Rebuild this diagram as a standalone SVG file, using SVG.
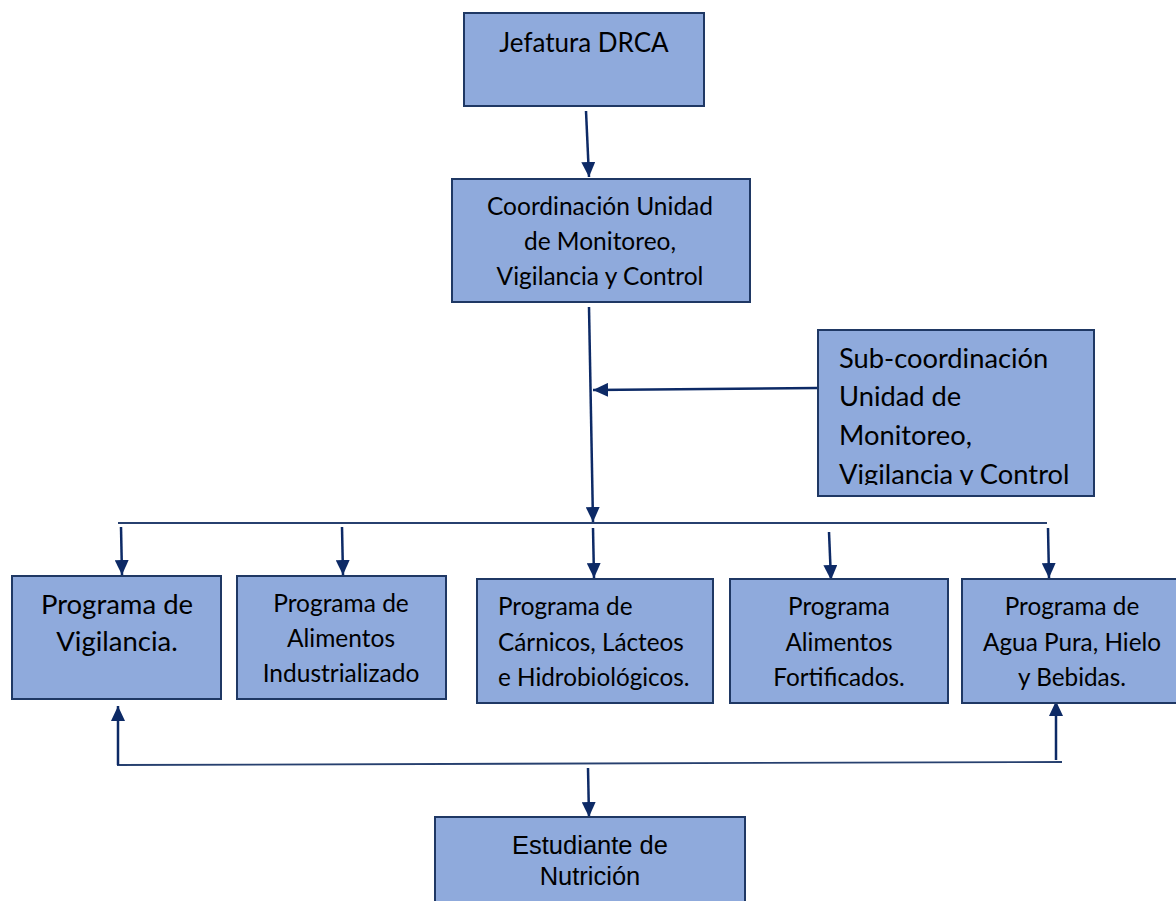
<svg xmlns="http://www.w3.org/2000/svg" width="1176" height="901" viewBox="0 0 1176 901">
<defs>
<marker id="ah" markerUnits="userSpaceOnUse" markerWidth="16" markerHeight="14" refX="15" refY="7" orient="auto"><path d="M0,0 L15,7 L0,14 z" fill="#0d2a66"/></marker>
<style>
.box{fill:#8faadc;stroke:#1f3864;stroke-width:2}
.t{font-family:Lato,"Liberation Sans",sans-serif;fill:#000}
.a{font-family:"Liberation Sans",Arial,sans-serif;fill:#000}
.c{text-anchor:middle}
.ln{stroke:#0d2a66;stroke-width:2.5;fill:none}
.bus{stroke:#27406f;stroke-width:1.8;fill:none}
</style>
</defs>
<rect width="1176" height="901" fill="#fff"/>
<g id="connectors">
<line class="ln" x1="586" y1="111" x2="589" y2="177" marker-end="url(#ah)"/>
<line class="ln" x1="589" y1="307" x2="593" y2="522" marker-end="url(#ah)"/>
<line class="ln" x1="818" y1="388" x2="593" y2="390" marker-end="url(#ah)"/>
<line class="bus" x1="118" y1="523" x2="1047" y2="523"/>
<line class="ln" x1="121" y1="527" x2="122" y2="575" marker-end="url(#ah)"/>
<line class="ln" x1="342" y1="527" x2="343" y2="575" marker-end="url(#ah)"/>
<line class="ln" x1="593" y1="528" x2="594" y2="578" marker-end="url(#ah)"/>
<line class="ln" x1="829" y1="532" x2="831" y2="580" marker-end="url(#ah)"/>
<line class="ln" x1="1048" y1="528" x2="1049" y2="578" marker-end="url(#ah)"/>
<line class="bus" x1="117" y1="765" x2="1062" y2="762"/>
<line class="ln" x1="118" y1="765" x2="118" y2="706" marker-end="url(#ah)"/>
<line class="ln" x1="1056" y1="760" x2="1056" y2="701" marker-end="url(#ah)"/>
<line class="ln" x1="588" y1="768" x2="589" y2="817" marker-end="url(#ah)"/>
</g>
<g id="jefatura">
<rect class="box" x="464" y="13" width="240" height="93"/>
<text class="t c" x="584" y="52" font-size="26">Jefatura DRCA</text>
</g>
<g id="coordinacion">
<rect class="box" x="452" y="179" width="298" height="123"/>
<text class="t c" font-size="24.5" x="600"><tspan x="600" y="215">Coordinación Unidad</tspan><tspan x="600" y="250">de Monitoreo,</tspan><tspan x="600" y="285">Vigilancia y Control</tspan></text>
</g>
<g id="subcoordinacion">
<rect class="box" x="818" y="330" width="276" height="166"/>
<svg x="818" y="330" width="276" height="155" overflow="hidden">
<text class="t" font-size="27.3"><tspan x="21" y="38">Sub-coordinación</tspan><tspan x="21" y="76">Unidad de</tspan><tspan x="21" y="115">Monitoreo,</tspan><tspan x="21" y="154">Vigilancia y Control</tspan></text>
</svg>
</g>
<g id="vigilancia">
<rect class="box" x="12" y="576" width="209" height="123"/>
<text class="t c" font-size="27.5"><tspan x="117" y="614">Programa de</tspan><tspan x="117" y="651">Vigilancia.</tspan></text>
</g>
<g id="industrializado">
<rect class="box" x="237" y="576" width="209" height="123"/>
<text class="t c" font-size="24.5"><tspan x="341" y="612">Programa de</tspan><tspan x="341" y="647">Alimentos</tspan><tspan x="341" y="682">Industrializado</tspan></text>
</g>
<g id="carnicos">
<rect class="box" x="477" y="579" width="236" height="124"/>
<text class="t" font-size="24.3"><tspan x="498" y="615">Programa de</tspan><tspan x="498" y="651">Cárnicos, Lácteos</tspan><tspan x="498" y="686">e Hidrobiológicos.</tspan></text>
</g>
<g id="fortificados">
<rect class="box" x="730" y="579" width="218" height="124"/>
<text class="t c" font-size="24.3"><tspan x="839" y="615">Programa</tspan><tspan x="839" y="651">Alimentos</tspan><tspan x="839" y="686">Fortificados.</tspan></text>
</g>
<g id="agua">
<rect class="box" x="962" y="579" width="216" height="124"/>
<text class="t c" font-size="24.3"><tspan x="1072" y="615">Programa de</tspan><tspan x="1072" y="651">Agua Pura, Hielo</tspan><tspan x="1072" y="686">y Bebidas.</tspan></text>
</g>
<g id="estudiante">
<rect class="box" x="435" y="817" width="310" height="90"/>
<text class="a c" font-size="25.5"><tspan x="590" y="854">Estudiante de</tspan><tspan x="590" y="885">Nutrición</tspan></text>
</g>
</svg>
